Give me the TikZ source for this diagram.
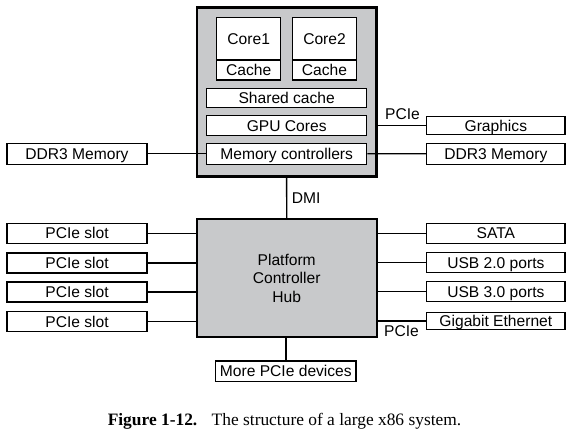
\documentclass[tikz,border=0pt]{standalone}
\usepackage{fontspec}
\setmainfont{Liberation Sans}
\newfontfamily\capfont{Liberation Serif}
\definecolor{hubgray}{RGB}{200,201,203}
\tikzset{
	part/.style = {draw, line width=1.1pt, fill=white, inner sep=0pt, text height=11.2pt, text depth=0pt},
	chip/.style = {draw, line width=2.2pt, fill=hubgray, inner sep=0pt},
	bus/.style = {line width=1.3pt},
	tag/.style = {inner sep=0pt, anchor=base west}
}
\begin{document}
\begin{tikzpicture}[x=1pt, y=-1pt, font=\fontsize{15.6}{18.7}\selectfont]
	\useasboundingbox (0,0) rectangle (574,434);
	% processor
	\node [chip, minimum width=179.8pt, minimum height=169pt] (cpu) at (286.6,92) {};
	\node [part, minimum width=64pt, minimum height=42.7pt] (core1) at (248.7,38.65) {Core1};
	\node [part, minimum width=64pt, minimum height=20pt] (cache1) at (248.7,70) {Cache};
	\node [part, minimum width=64pt, minimum height=42.7pt] (core2) at (324.5,38.65) {Core2};
	\node [part, minimum width=64pt, minimum height=20pt] (cache2) at (324.5,70) {Cache};
	\node [part, minimum width=160pt, minimum height=19.4pt] (shared) at (286.7,98) {Shared cache};
	\node [part, minimum width=160pt, minimum height=20pt] (gpu) at (286.7,125.7) {GPU Cores};
	\node [part, minimum width=160pt, minimum height=20.7pt] (memctl) at (286.7,153.7) {Memory controllers};
	\node [part, minimum width=140pt, minimum height=20.7pt] (ddrL) at (77,153.7) {DDR3 Memory};
	\node [part, minimum width=138.3pt, minimum height=21pt] (ddrR) at (495.85,153.8) {DDR3 Memory};
	\node [part, minimum width=138.3pt, minimum height=17.7pt] (gfx) at (495.85,125.5) {Graphics};
	\draw [bus] (ddrL.east) -- (memctl.west);
	\draw [bus] (memctl.east) -- (ddrR.west);
	\draw [bus] (gfx.west) -- (gfx.west -| cpu.east);
	\node [tag] (pcieA) at (385,119.5) {PCIe};
	% hub
	\node [chip, align=center, minimum width=180pt, minimum height=118.3pt] (pch) at (286.7,278.2) {Platform\\Controller\\Hub};
	\draw [bus] (cpu.south) -- (pch.north);
	\node [tag] (dmi) at (291.7,203.3) {DMI};
	\foreach \i/\y in {1/233.3,2/263,3/292,4/321.5}
		\node [part, minimum width=140pt, minimum height=20pt] (slot\i) at (77,\y) {PCIe slot};
	\foreach \i in {1,...,4}
		\draw [bus] (slot\i.east) -- (slot\i.east -| pch.west);
	\foreach \n/\y/\t in {sata/233.3/SATA, usbii/262.7/USB 2.0 ports, usbiii/291.7/USB 3.0 ports}
		\node [part, minimum width=138.3pt, minimum height=20pt] (\n) at (495.85,\y) {\t};
	\node [part, minimum width=138.3pt, minimum height=17.6pt] (gbe) at (495.85,321) {Gigabit Ethernet};
	\foreach \n in {sata,usbii,usbiii,gbe}
		\draw [bus] (\n.west) -- (\n.west -| pch.east);
	\node [tag] (pcieB) at (384,336.5) {PCIe};
	\node [part, minimum width=140.3pt, minimum height=20.7pt] (more) at (285.85,371.35) {More PCIe devices};
	\draw [bus] (more.north) -- (more.north |- pch.south);
	% caption
	\node [font=\capfont\fontsize{17.4}{20}\selectfont, anchor=base, inner sep=0pt] (caption) at (284.5,425.7) {\textbf{Figure 1-12.}\hspace{8.6pt} The structure of a large x86 system.};
\end{tikzpicture}
\end{document}
